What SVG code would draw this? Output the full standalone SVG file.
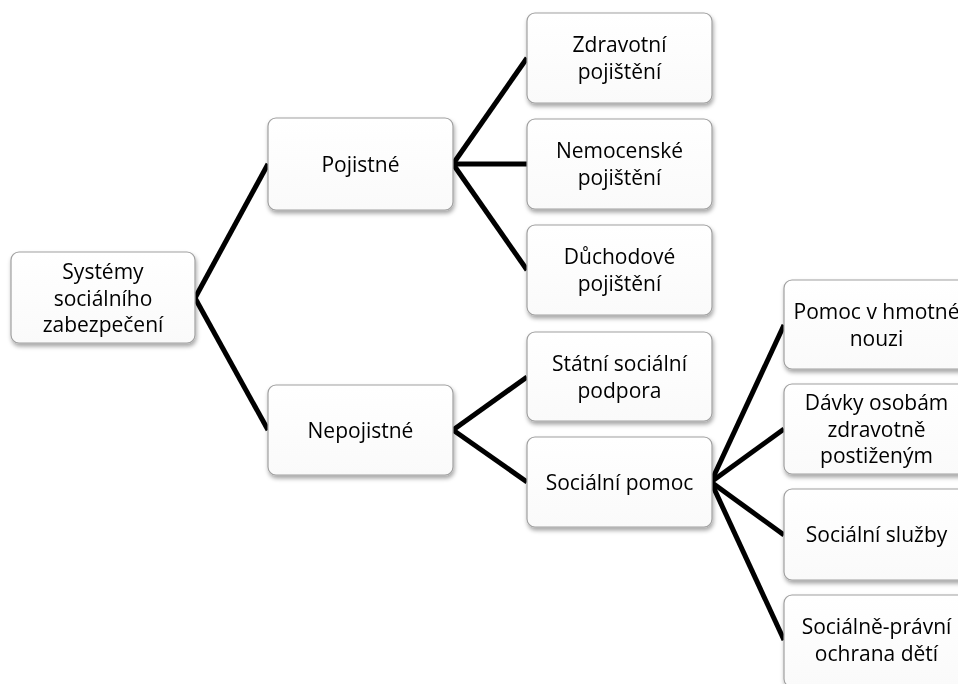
<svg xmlns="http://www.w3.org/2000/svg" width="958" height="684" viewBox="0 0 958 684">
<style>
.box{fill:url(#g);stroke:#a0a0a0;stroke-width:1.2}
.t{font-family:"Open Sans","Liberation Sans",sans-serif;font-size:21px;fill:#000;text-anchor:middle}
.c{stroke:#000;stroke-width:5;fill:none}
</style>
<defs>
<linearGradient id="g" x1="0" y1="0" x2="0" y2="1">
<stop offset="0" stop-color="#ffffff"/>
<stop offset="1" stop-color="#fafafa"/>
</linearGradient>
<filter id="sh" x="-10%" y="-10%" width="125%" height="130%">
<feDropShadow dx="1" dy="3" stdDeviation="2" flood-color="#000" flood-opacity="0.35"/>
</filter>
</defs>
<rect width="958" height="684" fill="#fff"/>
<g id="connectors">
<line class="c" x1="195" y1="298" x2="268" y2="164"/>
<line class="c" x1="195" y1="298" x2="268" y2="430"/>
<line class="c" x1="453" y1="164" x2="527" y2="58"/>
<line class="c" x1="453" y1="164" x2="527" y2="164"/>
<line class="c" x1="453" y1="164" x2="527" y2="270"/>
<line class="c" x1="453" y1="430" x2="527" y2="377"/>
<line class="c" x1="453" y1="430" x2="527" y2="482"/>
<line class="c" x1="711" y1="482" x2="784" y2="325"/>
<line class="c" x1="711" y1="482" x2="784" y2="429"/>
<line class="c" x1="711" y1="482" x2="784" y2="535"/>
<line class="c" x1="711" y1="482" x2="784" y2="640"/>
</g>
<g id="root" filter="url(#sh)">
<rect class="box" x="11" y="252" width="184" height="91" rx="8"/>
<text class="t" x="103" y="279">Systémy</text>
<text class="t" x="103" y="305.5">sociálního</text>
<text class="t" x="103" y="332">zabezpečení</text>
</g>
<g id="pojistne" filter="url(#sh)">
<rect class="box" x="268" y="118" width="185" height="92" rx="8"/>
<text class="t" x="360.5" y="171.5">Pojistné</text>
</g>
<g id="nepojistne" filter="url(#sh)">
<rect class="box" x="268" y="385" width="185" height="90" rx="8"/>
<text class="t" x="360.5" y="437.5">Nepojistné</text>
</g>
<g id="zdravotni" filter="url(#sh)">
<rect class="box" x="527" y="13" width="185" height="90" rx="8"/>
<text class="t" x="619.5" y="52">Zdravotní</text>
<text class="t" x="619.5" y="78.5">pojištění</text>
</g>
<g id="nemocenske" filter="url(#sh)">
<rect class="box" x="527" y="119" width="185" height="90" rx="8"/>
<text class="t" x="619.5" y="158">Nemocenské</text>
<text class="t" x="619.5" y="184.5">pojištění</text>
</g>
<g id="duchodove" filter="url(#sh)">
<rect class="box" x="527" y="225" width="185" height="90" rx="8"/>
<text class="t" x="619.5" y="264">Důchodové</text>
<text class="t" x="619.5" y="290.5">pojištění</text>
</g>
<g id="statni" filter="url(#sh)">
<rect class="box" x="527" y="332" width="185" height="89" rx="8"/>
<text class="t" x="619.5" y="371">Státní sociální</text>
<text class="t" x="619.5" y="397.5">podpora</text>
</g>
<g id="socialni-pomoc" filter="url(#sh)">
<rect class="box" x="527" y="437" width="185" height="90" rx="8"/>
<text class="t" x="619.5" y="489.5">Sociální pomoc</text>
</g>
<g id="hmotna-nouze" filter="url(#sh)">
<rect class="box" x="784" y="280" width="185" height="89" rx="8"/>
<text class="t" x="876.5" y="319">Pomoc v hmotné</text>
<text class="t" x="876.5" y="345.5">nouzi</text>
</g>
<g id="davky" filter="url(#sh)">
<rect class="box" x="784" y="384" width="185" height="90" rx="8"/>
<text class="t" x="876.5" y="410">Dávky osobám</text>
<text class="t" x="876.5" y="436.5">zdravotně</text>
<text class="t" x="876.5" y="463">postiženým</text>
</g>
<g id="sluzby" filter="url(#sh)">
<rect class="box" x="784" y="489" width="185" height="91" rx="8"/>
<text class="t" x="876.5" y="542">Sociální služby</text>
</g>
<g id="ochrana" filter="url(#sh)">
<rect class="box" x="784" y="595" width="185" height="92" rx="8"/>
<text class="t" x="876.5" y="634">Sociálně-právní</text>
<text class="t" x="876.5" y="660.5">ochrana dětí</text>
</g>
</svg>
